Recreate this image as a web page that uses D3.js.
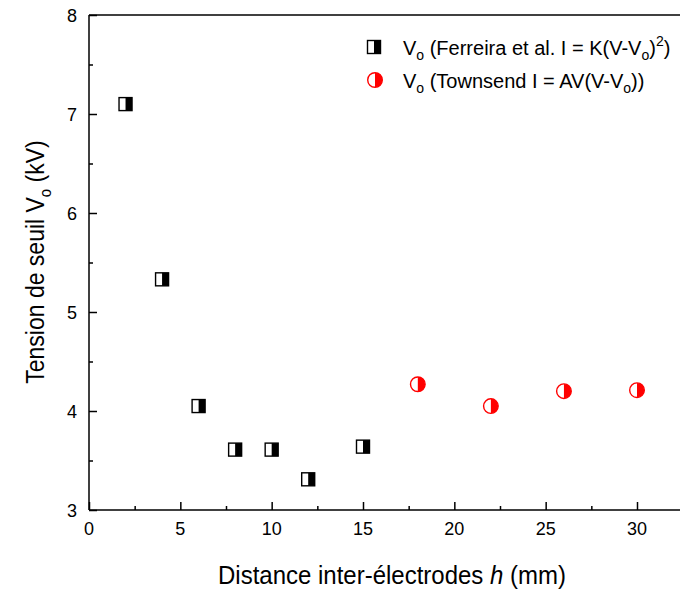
<!DOCTYPE html>
<html><head><meta charset="utf-8">
<script src="https://cdn.jsdelivr.net/npm/d3@7"></script>
<style>body{margin:0;background:#fff}svg{display:block;font-family:"Liberation Sans",Arial,sans-serif}</style>
</head><body><svg id="c" width="680" height="592"></svg>
<script>
const ferreiraX = [2, 4, 6, 8, 10, 12, 15];
const ferreiraY = [7.10, 5.33, 4.05, 3.61, 3.61, 3.31, 3.64];
const townsendX = [18, 22, 26, 30];
const townsendY = [4.27, 4.05, 4.20, 4.21];
const xTicks = [0, 5, 10, 15, 20, 25, 30];
const yTicks = [3, 4, 5, 6, 7, 8];

const svg = d3.select("#c");
const L = 89, T = 15, B = 510;
const x = d3.scaleLinear().domain([0, 30]).range([L, 637]);
const y = d3.scaleLinear().domain([3, 8]).range([B, T]);
const xMax = 33;

// axes frame
const g = svg.append("g");
g.append("line").attr("x1", L).attr("x2", L).attr("y1", T).attr("y2", B).attr("stroke", "#000").attr("stroke-width", 1.5);
g.append("line").attr("x1", L).attr("x2", x(xMax)).attr("y1", B).attr("y2", B).attr("stroke", "#000").attr("stroke-width", 1.5);
g.append("line").attr("x1", L).attr("x2", x(xMax)).attr("y1", T).attr("y2", T).attr("stroke", "#000").attr("stroke-width", 1.5);

// x axis ticks (inward)
const xa = d3.axisTop(x).tickValues(xTicks).tickSize(8).tickFormat("");
const xAxisG = svg.append("g").attr("transform", `translate(0,${B})`).call(xa);
xAxisG.select(".domain").remove();
const xMinor = d3.axisTop(x).tickValues(d3.range(2.5, 33, 5)).tickSize(4).tickFormat("");
const xm = svg.append("g").attr("transform", `translate(0,${B})`).call(xMinor);
xm.select(".domain").remove();
svg.append("g").selectAll("text").data(xTicks).join("text")
  .attr("x", d => x(d)).attr("y", B + 25).attr("text-anchor", "middle")
  .attr("font-size", 18).text(d => d);

// y axis ticks (inward)
const ya = d3.axisRight(y).tickValues(yTicks).tickSize(8).tickFormat("");
const yAxisG = svg.append("g").attr("transform", `translate(${L},0)`).call(ya);
yAxisG.select(".domain").remove();
const yMinor = d3.axisRight(y).tickValues(d3.range(3.5, 8, 1)).tickSize(4).tickFormat("");
const ym = svg.append("g").attr("transform", `translate(${L},0)`).call(yMinor);
ym.select(".domain").remove();
svg.selectAll(".tick line").attr("stroke-width", 1.5);
svg.append("g").selectAll("text").data(yTicks).join("text")
  .attr("x", L - 12).attr("y", d => y(d) + 6.5).attr("text-anchor", "end")
  .attr("font-size", 18).text(d => d);

// axis titles
const yt = svg.append("text").attr("transform", `translate(44,262) rotate(-90) scale(1,1.1)`)
  .attr("text-anchor", "middle").attr("font-size", 23);
yt.append("tspan").text("Tension de seuil V");
yt.append("tspan").attr("font-size", 15).attr("dy", 6).text("o");
yt.append("tspan").attr("dy", -6).text(" (kV)");

const xt = svg.append("text").attr("transform", `translate(392,584) scale(1,1.08)`).attr("text-anchor", "middle").attr("font-size", 24);
xt.append("tspan").text("Distance inter-électrodes ");
xt.append("tspan").attr("font-style", "italic").text("h");
xt.append("tspan").text(" (mm)");

// markers
function halfSquare(sel, cx, cy) {
  const w = 13, h = 13;
  sel.append("rect").attr("x", cx - w/2).attr("y", cy - h/2).attr("width", w).attr("height", h)
    .attr("fill", "#fff").attr("stroke", "#000").attr("stroke-width", 1.4);
  sel.append("rect").attr("x", cx).attr("y", cy - h/2).attr("width", w/2).attr("height", h).attr("fill", "#000");
}
function halfCircle(sel, cx, cy) {
  const r = 7.3;
  sel.append("circle").attr("cx", cx).attr("cy", cy).attr("r", r).attr("fill", "#fff").attr("stroke", "#f00").attr("stroke-width", 1.4);
  sel.append("path").attr("d", `M${cx},${cy - r} A${r},${r} 0 0 1 ${cx},${cy + r} Z`).attr("fill", "#f00");
}

const pts = svg.append("g");
ferreiraX.forEach((d, i) => halfSquare(pts, x(d), y(ferreiraY[i])));
townsendX.forEach((d, i) => halfCircle(pts, x(d), y(townsendY[i])));

// legend
const lg = svg.append("g");
halfSquare(lg, 374, 47);
halfCircle(lg, 375, 80);
const t1 = lg.append("text").attr("x", 403).attr("y", 55).attr("font-size", 20);
t1.append("tspan").text("V");
t1.append("tspan").attr("font-size", 14).attr("dy", 5).text("o");
t1.append("tspan").attr("dy", -5).text(" (Ferreira et al. I = K(V-V");
t1.append("tspan").attr("font-size", 14).attr("dy", 5).text("o");
t1.append("tspan").attr("dy", -5).text(")");
t1.append("tspan").attr("font-size", 14).attr("dy", -9).text("2");
t1.append("tspan").attr("dy", 9).text(")");
const t2 = lg.append("text").attr("x", 403).attr("y", 88).attr("font-size", 20);
t2.append("tspan").text("V");
t2.append("tspan").attr("font-size", 14).attr("dy", 5).text("o");
t2.append("tspan").attr("dy", -5).text(" (Townsend I = AV(V-V");
t2.append("tspan").attr("font-size", 14).attr("dy", 5).text("o");
t2.append("tspan").attr("dy", -5).text("))");
</script></body></html>
